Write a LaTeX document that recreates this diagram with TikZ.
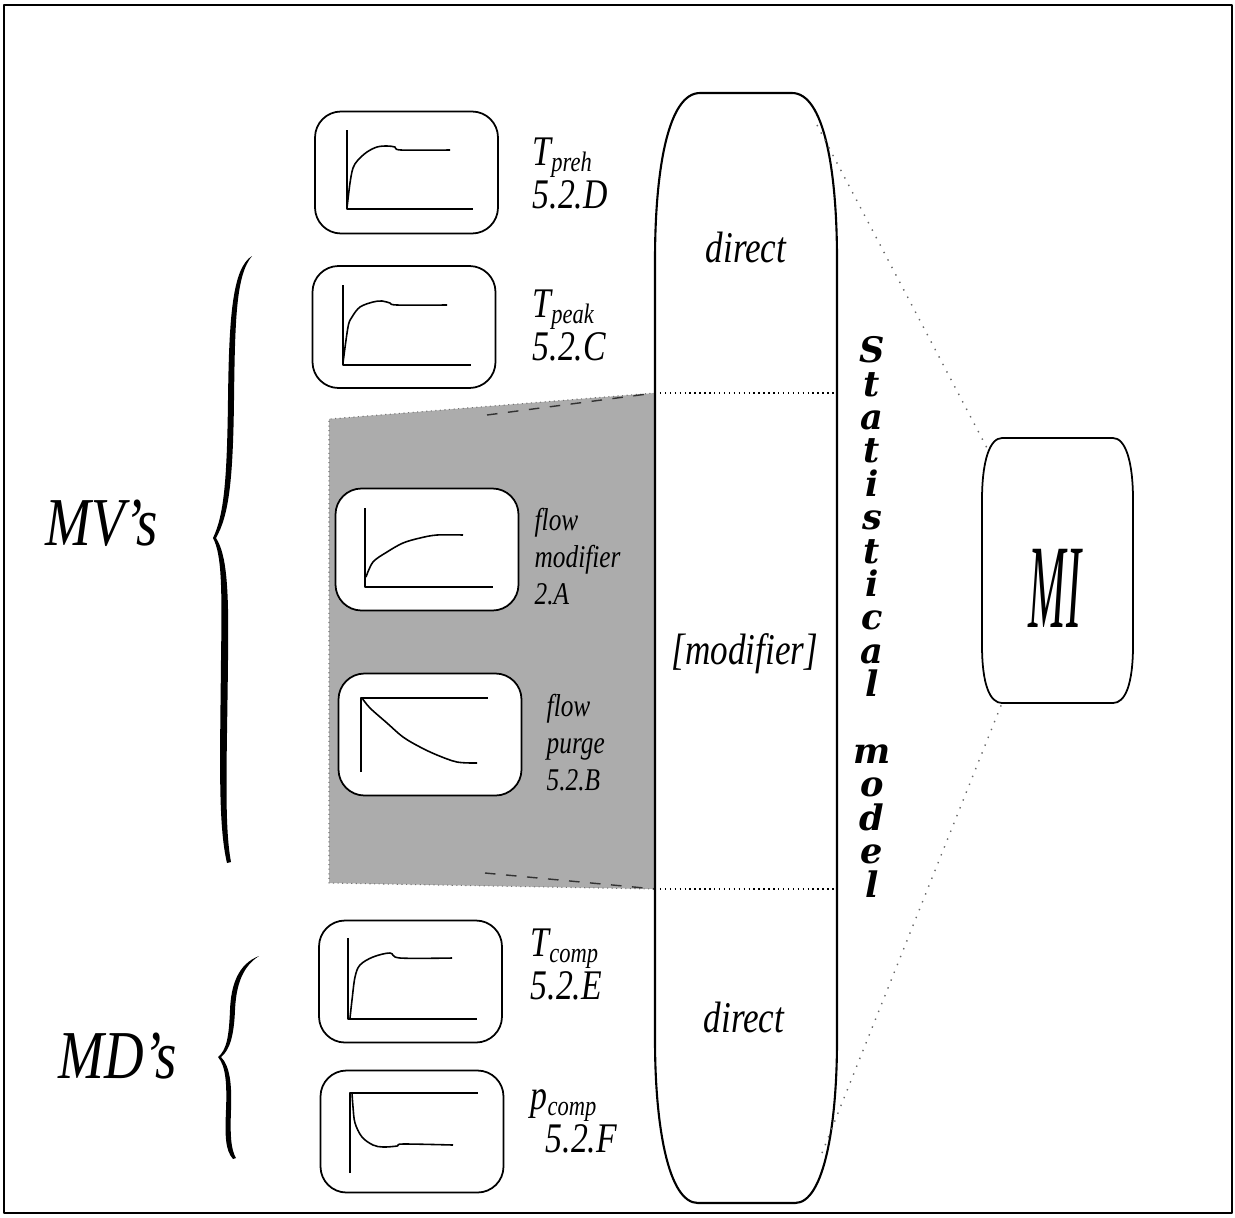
\documentclass[tikz,border=0pt]{standalone}
\usepackage{fontspec}
\setmainfont{Liberation Serif}[FakeStretch=0.8]
\newfontfamily\statfont{DejaVu Serif}
\usetikzlibrary{positioning, calc}
\definecolor{mvgray}{RGB}{172,172,172}
\definecolor{linkgray}{RGB}{105,105,105}
\lineskiplimit=-\maxdimen

\begin{document}
\begin{tikzpicture}[x=0.1mm, y=-0.1mm, line join=round,
  plotbox/.style={draw, fill=white, line width=0.5pt, rounded corners=2.6mm,
    minimum width=18.3mm, minimum height=12.2mm, inner sep=0},
  axis/.style={line width=0.45pt},
  curve/.style={line width=0.45pt, smooth, tension=0.55},
  lbl/.style={font=\fontsize{12}{12.2}\selectfont\itshape,
    align=left, inner sep=0, anchor=north west},
  flbl/.style={font=\fontsize{9}{10.4}\selectfont\itshape,
    align=left, inner sep=0, anchor=north west},
  midlbl/.style={font=\fontsize{12.5}{13}\selectfont\itshape, inner sep=0, anchor=base},
  grplbl/.style={font=\fontsize{19.5}{20}\selectfont\itshape, inner sep=0, anchor=base west},
  statlbl/.style={font=\statfont\bfseries\itshape\fontsize{10}{9.5}\selectfont,
    align=center, inner sep=0, anchor=north},
  link/.style={dotted, linkgray, line width=0.4pt}]
  \useasboundingbox (0,0) rectangle (1235,1217);

  % Frame
  \draw[line width=0.8pt] (4,5) rectangle (1232,1213);

  % Shaded MV block
  \fill[mvgray] (329,419) -- (655,393) -- (655,889) -- (329,883) -- cycle;
  \draw[densely dotted, black!55, line width=0.3pt] (655,393) -- (329,419) -- (329,883) -- (655,889);
  \draw[dashed, black!80, line width=0.4pt] (487,415) -- (655,393);
  \draw[dashed, black!80, line width=0.4pt] (485,873) -- (655,889);

  % Statistical model column
  \draw[line width=0.6pt] (655,260) .. controls (655,170) and (668,93) .. (700,93)
    -- (792,93) .. controls (824,93) and (837,170) .. (837,260)
    -- (837,1040) .. controls (837,1125) and (824,1203) .. (795,1203)
    -- (698,1203) .. controls (668,1203) and (655,1125) .. (655,1040) -- cycle;
  \draw[densely dotted, line width=0.4pt] (655,393) -- (837,393);
  \draw[densely dotted, line width=0.4pt] (655,889) -- (837,889);
  \node[midlbl] (dirtop) at (746,262) {direct};
  \node[midlbl] (modif) at (745,664) {[modifier]};
  \node[midlbl] (dirbot) at (744,1032) {direct};
  \node[statlbl] (stat) at (872,336) {S\\t\\a\\t\\i\\s\\t\\i\\c\\a\\l\\[9.5pt]m\\o\\d\\e\\l};

  % MI
  \draw[line width=0.5pt] (982,500) .. controls (982,460) and (990,438) .. (1002,438)
    -- (1113,438) .. controls (1125,438) and (1133,460) .. (1133,500)
    -- (1133,645) .. controls (1133,685) and (1125,703) .. (1113,703)
    -- (1002,703) .. controls (990,703) and (982,685) .. (982,645) -- cycle;
  \node[font=\fontsize{34}{34}\selectfont\itshape, inner sep=0] (mi) at (1055,588) {\scalebox{0.47}[1]{MI}};
  \coordinate (capNE) at (817,125);
  \coordinate (capSE) at (822,1153);
  \coordinate (miNW) at (987,448);
  \coordinate (miSW) at (1002,703);
  \draw[link] (capNE) -- (miNW);
  \draw[link] (capSE) -- (miSW);

  % Response boxes
  \foreach \nm/\cx/\cy in {preh/406.5/172.5, peak/404/327, fmod/427/549.5,
      fpur/430/734.5, comp/410.5/981.5, pcomp/412/1131.5}
    \node[plotbox] (\nm) at (\cx,\cy) {};

  % T preh
  \draw[axis] (347,130) -- (347,209) -- (473,209);
  \draw[curve] plot coordinates {(347,208) (350,183) (353,168) (358,160) (367,152)
    (377,147) (387,146) (395,147) (401,150) (450,150)};
  % T peak
  \draw[axis] (343,285) -- (343,365) -- (471,365);
  \draw[curve] plot coordinates {(343,363) (348,327) (352,317) (360,307) (373,302)
    (382,301) (390,303) (397,305) (447,305)};
  % flow modifier
  \draw[axis] (365,508) -- (365,587) -- (493,587);
  \draw[curve] plot coordinates {(366,577) (373,562) (387,552) (403,543) (420,538)
    (437,535) (463,535)};
  % flow purge
  \draw[axis] (361,772) -- (361,698) -- (488,698);
  \draw[curve] plot coordinates {(362,698) (370,708) (387,723) (403,737) (420,747)
    (437,755) (457,762) (477,763)};
  % T comp
  \draw[axis] (348,938) -- (348,1019) -- (477,1019);
  \draw[curve] plot coordinates {(350,1018) (352,1000) (355,977) (360,965) (373,957)
    (390,953) (400,958) (452,958)};
  % p comp
  \draw[axis] (350,1173) -- (350,1093) -- (478,1093);
  \draw[curve] plot coordinates {(352,1093) (353,1107) (355,1123) (362,1137) (373,1145)
    (383,1147) (397,1146) (403,1144) (453,1145)};

  % Labels
  \node[lbl] (prehlbl) at (532,137) {T\textsubscript{preh}\\5.2.D};
  \node[lbl] (peaklbl) at (532,289) {T\textsubscript{peak}\\5.2.C};
  \node[flbl] (fmodlbl) at (534,508) {flow\\modifier\\2.A};
  \node[flbl] (fpurlbl) at (546,694) {flow\\purge\\5.2.B};
  \node[lbl] (complbl) at (530,928) {T\textsubscript{comp}\\5.2.E};
  \node[lbl] (pcomplbl) at (530,1089) {p\textsubscript{comp}\\\hspace*{1.5mm}5.2.F};

  % Groups
  \node[grplbl] (mv) at (45,545) {MV's};
  \node[grplbl] (md) at (58,1078) {MD's};
  \fill (252,256) .. controls (236,275) and (235,320) .. (234,400)
    .. controls (233,480) and (229,515) .. (216,538)
    .. controls (227,555) and (229,590) .. (228,660)
    .. controls (227,760) and (224,825) .. (231,862) -- (227,863)
    .. controls (218,825) and (220,760) .. (221,660)
    .. controls (222,590) and (222,555) .. (213,538)
    .. controls (224,515) and (227,480) .. (228,400)
    .. controls (229,320) and (232,268) .. (252,256) -- cycle;
  \fill (259,956) .. controls (240,968) and (236,990) .. (235,1010)
    .. controls (234,1035) and (230,1050) .. (221,1057)
    .. controls (230,1066) and (232,1085) .. (231,1110)
    .. controls (230,1135) and (231,1150) .. (236,1158) -- (233,1159)
    .. controls (225,1150) and (225,1135) .. (226,1110)
    .. controls (227,1085) and (226,1066) .. (218,1057)
    .. controls (227,1050) and (229,1035) .. (230,1010)
    .. controls (231,985) and (238,964) .. (259,956) -- cycle;
\end{tikzpicture}
\end{document}
